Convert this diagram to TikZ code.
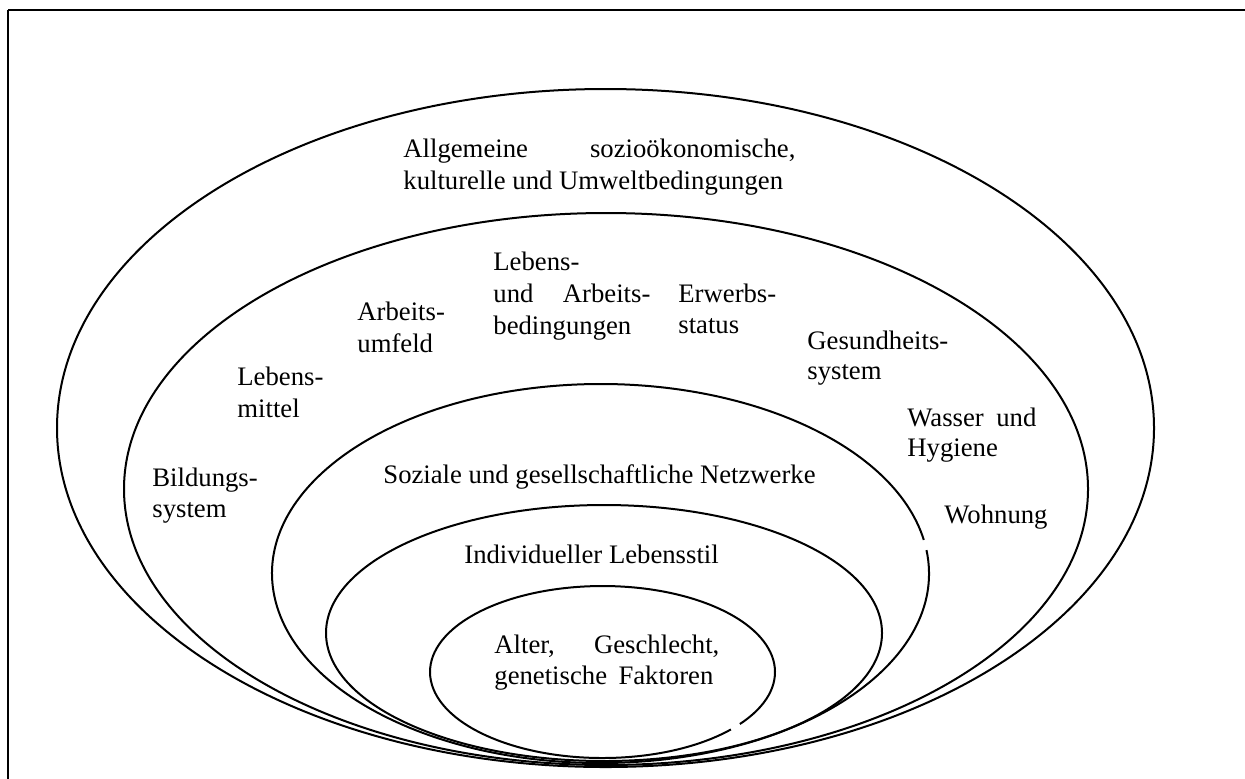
\documentclass[tikz,border=0pt]{standalone}
\usepackage{fontspec}
\setmainfont{Liberation Serif}
\begin{document}
\begin{tikzpicture}[x=0.5pt,y=-0.5pt,
  ring/.style={line width=1pt},
  frameline/.style={line width=1.2pt},
  lbl/.style={anchor=base west,inner sep=0pt,font=\fontsize{13.35}{16}\selectfont}]
\useasboundingbox (0,0) rectangle (1245,778);
% frame (left and top edges)
\coordinate (fb) at (8,780);
\coordinate (fc) at (8,10);
\coordinate (fr) at (1245,10);
\draw[frameline] (fc) -- (fb);
\draw[frameline] (fc) -- (fr);
% rings
\draw[ring] (605.5,428) ellipse [x radius=548.5, y radius=339];
\draw[ring] (606,489) ellipse [x radius=482, y radius=276];
\draw[ring] ([shift={(600.5,573.5)}]-7.1:328.5 and 189.5)
  arc[start angle=-7.1, end angle=349.8, x radius=328.5, y radius=189.5];
\draw[ring] (604,633) ellipse [x radius=278, y radius=128];
\draw[ring] ([shift={(602.5,672)}]41.9:172.5 and 86)
  arc[start angle=41.9, end angle=397.2, x radius=172.5, y radius=86];
% labels
\node[lbl] (t1a) at (403,157) {\makebox[196pt][s]{Allgemeine sozioökonomische,}};
\node[lbl] (t1b) at (403,189) {kulturelle und Umweltbedingungen};
\node[lbl] (t2a) at (493,270) {Lebens-};
\node[lbl] (t2b) at (493,302) {\makebox[78.5pt][s]{und Arbeits-}};
\node[lbl] (t2c) at (493,334) {bedingungen};
\node[lbl] (t3a) at (357,320) {Arbeits-};
\node[lbl] (t3b) at (357,352) {umfeld};
\node[lbl] (t4a) at (678,302) {Erwerbs-};
\node[lbl] (t4b) at (678,333) {status};
\node[lbl] (t5a) at (807,349) {Gesundheits-};
\node[lbl] (t5b) at (807,379) {system};
\node[lbl] (t6a) at (907,426) {\makebox[64.5pt][s]{Wasser und}};
\node[lbl] (t6b) at (907,456) {Hygiene};
\node[lbl] (t7) at (944,523) {Wohnung};
\node[lbl] (t8a) at (237,385) {Lebens-};
\node[lbl] (t8b) at (237,417) {mittel};
\node[lbl] (t9a) at (152,486) {Bildungs-};
\node[lbl] (t9b) at (152,517) {system};
\node[lbl] (t10) at (383,483) {Soziale und gesellschaftliche Netzwerke};
\node[lbl] (t11) at (464,563) {Individueller Lebensstil};
\node[lbl] (t12a) at (494,653) {\makebox[112.5pt][s]{Alter, Geschlecht,}};
\node[lbl] (t12b) at (494,684) {\makebox[109.5pt][s]{genetische Faktoren}};
\end{tikzpicture}
\end{document}
